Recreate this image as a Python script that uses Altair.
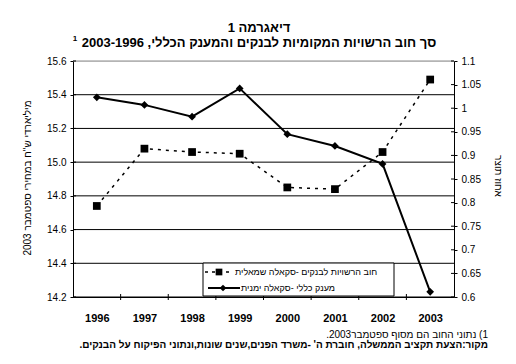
import altair as alt
import pandas as pd

years = [1996, 1997, 1998, 1999, 2000, 2001, 2002, 2003]
debt = [14.74, 15.08, 15.06, 15.05, 14.85, 14.84, 15.06, 15.49]
grant = [1.023, 1.007, 0.982, 1.042, 0.945, 0.92, 0.882, 0.611]
left_ticks = [14.2, 14.4, 14.6, 14.8, 15.0, 15.2, 15.4, 15.6]
right_ticks = [0.6, 0.65, 0.7, 0.75, 0.8, 0.85, 0.9, 0.95, 1.0, 1.05, 1.1]
year_bounds = [1996.5, 1997.5, 1998.5, 1999.5, 2000.5, 2001.5, 2002.5]

title1 = "דיאגרמה 1"
title2 = "סך חוב הרשויות המקומיות לבנקים והמענק הכללי, 2003-1996"
left_title = "מיליארדי ש\"ח במחירי ספטמבר 2003"
right_title = "אחוז תוצר"
legend1 = "חוב הרשויות לבנקים -סקאלה שמאלית"
legend2 = "מענק כללי -סקאלה ימנית"
note1 = "1) נתוני החוב הם מסוף ספטמבר2003."
note2 = "מקור:הצעת תקציב הממשלה, חוברת ה' -משרד הפנים,שנים שונות,ונתוני הפיקוח על הבנקים."

W, H = 381, 236
FONT = "Arial, 'Liberation Sans', 'DejaVu Sans', sans-serif"


def rtl(s):
    return "\u202b" + s + "\u202c"


df = pd.DataFrame({"year": years, "debt": debt, "grant": grant})
lt = pd.DataFrame({"year": [1996] * len(left_ticks), "debt": left_ticks})
rt = pd.DataFrame({"year": [1996] * len(right_ticks), "grant": right_ticks})
xb = pd.DataFrame({"year": year_bounds, "debt": [14.2] * len(year_bounds)})

xscale = alt.Scale(domain=[1995.5, 2003.5], nice=False, zero=False)
lscale = alt.Scale(domain=[14.2, 15.6], nice=False, zero=False)
rscale = alt.Scale(domain=[0.6, 1.1], nice=False, zero=False)

xaxis = alt.Axis(values=years, format="d", title=None, labelFont=FONT, labelFontSize=11,
                 labelFontWeight="bold", labelColor="black", ticks=False, tickSize=0,
                 labelPadding=15, domainColor="black", grid=False, labelFlush=False)
laxis = alt.Axis(values=left_ticks, format=".1f", title=None, grid=False,
                 tickSize=3, tickColor="black", domainColor="black",
                 labelFont=FONT, labelFontSize=10, labelColor="black", labelPadding=4)
raxis = alt.Axis(values=right_ticks, format=".2~f", title=None, grid=False, orient="right",
                 tickSize=3, tickColor="black", domainColor="black",
                 labelFont=FONT, labelFontSize=10, labelColor="black", labelPadding=4)

X = alt.X("year:Q", scale=xscale, axis=xaxis)
YL = alt.Y("debt:Q", scale=lscale, axis=laxis)
YR = alt.Y("grant:Q", scale=rscale, axis=raxis)

base = alt.Chart(df)
grid = alt.Chart(lt).mark_rule(strokeWidth=1).encode(
    y=YL, x=alt.value(0), x2=alt.value(W),
    color=alt.condition("datum.debt > 15.5", alt.value("#8c8c8c"), alt.value("black")))
dash_line = base.mark_line(color="black", strokeDash=[3, 5], strokeWidth=1.5).encode(x=X, y=YL)
squares = base.mark_point(shape="square", filled=True, size=60, color="black", opacity=1).encode(x=X, y=YL)
lticks = alt.Chart(lt).mark_rule(color="black").encode(y=YL, x=alt.value(0), x2=alt.value(3))
xticks = alt.Chart(xb).mark_rule(color="black").encode(x=X, y=alt.value(H - 3), y2=alt.value(H + 3))
left_group = alt.layer(grid, dash_line, squares, lticks, xticks)

solid_line = base.mark_line(color="black", strokeWidth=2).encode(x=X, y=YR)
diamonds = base.mark_point(shape="diamond", filled=True, size=60, color="black", opacity=1).encode(x=X, y=YR)
rticks = alt.Chart(rt).mark_rule(color="black").encode(y=YR, x=alt.value(W - 3), x2=alt.value(W))
right_group = alt.layer(solid_line, diamonds, rticks)

one = alt.Data(values=[{}])


def txt(s, x, y, size=10, weight="normal", align="center", angle=0):
    kw = dict(font=FONT, fontSize=size, fontWeight=weight, align=align, baseline="middle", color="black")
    if angle:
        kw["angle"] = angle
    return alt.Chart(one).mark_text(**kw).encode(x=alt.value(x), y=alt.value(y), text=alt.value(s))


legend_box = alt.Chart(one).mark_rect(fill="white", stroke="black", strokeWidth=1).encode(
    x=alt.value(130), x2=alt.value(321), y=alt.value(202), y2=alt.value(235))
leg_dash = alt.Chart(one).mark_rule(color="black", strokeDash=[3, 4], strokeWidth=1.5).encode(
    x=alt.value(132), x2=alt.value(160), y=alt.value(211))
leg_sq = alt.Chart(one).mark_point(shape="square", filled=True, size=45, color="black", opacity=1).encode(
    x=alt.value(146), y=alt.value(211))
leg_solid = alt.Chart(one).mark_rule(color="black", strokeWidth=2).encode(
    x=alt.value(135), x2=alt.value(167), y=alt.value(227))
leg_dia = alt.Chart(one).mark_point(shape="diamond", filled=True, size=45, color="black", opacity=1).encode(
    x=alt.value(150), y=alt.value(227))

decor = [
    legend_box, leg_dash, leg_sq, leg_solid, leg_dia,
    txt(rtl(legend1), 162, 211, size=9, align="left"),
    txt(rtl(legend2), 168, 227, size=9, align="left"),
    txt(rtl(title1), 186, -33, size=13, weight="bold"),
    txt(rtl(title2), 186, -18, size=13, weight="bold"),
    txt("1", 2, -22, size=8, weight="bold"),
    txt(rtl(left_title), -45, 117, size=10, angle=270),
    txt(rtl(right_title), 425, 115, size=10, angle=90),
    txt(rtl(note1), 415, 274, size=10, align="right"),
    txt(rtl(note2), 415, 284, size=10, weight="bold", align="right"),
]

chart = alt.layer(left_group, right_group, *decor).resolve_scale(y="independent").properties(
    width=W, height=H,
    autosize=alt.AutoSizeParams(type="none"),
    padding={"left": 65, "top": 53, "right": 54, "bottom": 55},
).configure_view(stroke=None).configure(background="white")

chart.save("out.html", embed_options={"renderer": "svg", "actions": False})
